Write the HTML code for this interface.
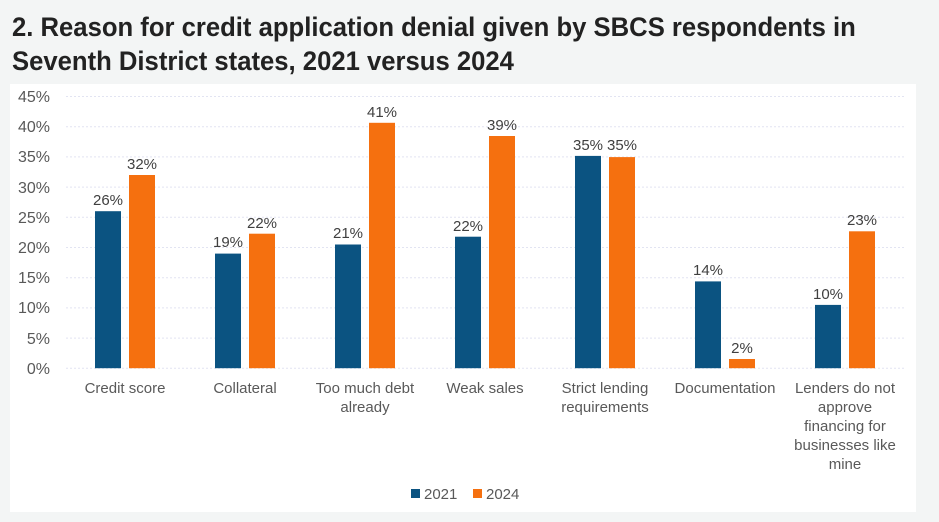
<!DOCTYPE html>
<html><head><style>
body{margin:0;width:939px;height:522px;background:#f3f5f5;position:relative;overflow:hidden;font-family:"Liberation Sans",sans-serif}
.title{position:absolute;left:12px;top:10px;font-family:"Liberation Sans Narrow","Liberation Sans",sans-serif;font-weight:bold;font-size:27px;line-height:34px;color:#222;white-space:nowrap;transform:scaleX(0.95);transform-origin:0 0}
.box{position:absolute;left:10px;top:84px;width:906px;height:428px;background:#fff}
</style></head><body>
<div class="title">2. Reason for credit application denial given by SBCS respondents in<br>Seventh District states, 2021 versus 2024</div>
<div class="box"></div>
<svg width="939" height="522" style="position:absolute;left:0;top:0" font-family="Liberation Sans, sans-serif">
<g stroke="#e2e4f2" stroke-width="1" stroke-dasharray="2,2">
<line x1="66" x2="905" y1="96.5" y2="96.5"/><line x1="66" x2="905" y1="126.7" y2="126.7"/><line x1="66" x2="905" y1="156.9" y2="156.9"/><line x1="66" x2="905" y1="187.1" y2="187.1"/><line x1="66" x2="905" y1="217.3" y2="217.3"/><line x1="66" x2="905" y1="247.5" y2="247.5"/><line x1="66" x2="905" y1="277.7" y2="277.7"/><line x1="66" x2="905" y1="307.9" y2="307.9"/><line x1="66" x2="905" y1="338.1" y2="338.1"/><line x1="66" x2="905" y1="368.3" y2="368.3"/>
</g>
<g fill="#595959" font-size="16" text-anchor="end">
<text x="50" y="102">45%</text><text x="50" y="132">40%</text><text x="50" y="162">35%</text><text x="50" y="193">30%</text><text x="50" y="223">25%</text><text x="50" y="253">20%</text><text x="50" y="283">15%</text><text x="50" y="313">10%</text><text x="50" y="344">5%</text><text x="50" y="374">0%</text>
</g>
<g fill="#0b5381">
<rect x="95" y="211.2" width="26" height="157"/>
<rect x="215" y="253.6" width="26" height="114.6"/>
<rect x="335" y="244.5" width="26" height="123.7"/>
<rect x="455" y="236.7" width="26" height="131.5"/>
<rect x="575" y="155.9" width="26" height="212.3"/>
<rect x="695" y="281.4" width="26" height="86.8"/>
<rect x="815" y="304.9" width="26" height="63.3"/>
</g>
<g fill="#f5700f">
<rect x="129" y="175" width="26" height="193.2"/>
<rect x="249" y="233.7" width="26" height="134.5"/>
<rect x="369" y="122.8" width="26" height="245.4"/>
<rect x="489" y="136" width="26" height="232.2"/>
<rect x="609" y="157.1" width="26" height="211.1"/>
<rect x="729" y="359" width="26" height="9.2"/>
<rect x="849" y="231.3" width="26" height="136.9"/>
</g>
<g fill="#404040" font-size="15" text-anchor="middle">
<text x="108" y="205">26%</text><text x="142" y="169">32%</text>
<text x="228" y="247">19%</text><text x="262" y="228">22%</text>
<text x="348" y="238">21%</text><text x="382" y="117">41%</text>
<text x="468" y="231">22%</text><text x="502" y="130">39%</text>
<text x="588" y="150">35%</text><text x="622" y="150">35%</text>
<text x="708" y="275">14%</text><text x="742" y="353">2%</text>
<text x="828" y="299">10%</text><text x="862" y="225">23%</text>
</g>
<g fill="#595959" font-size="15" text-anchor="middle">
<text x="125" y="393">Credit score</text>
<text x="245" y="393">Collateral</text>
<text x="365" y="393">Too much debt</text><text x="365" y="412">already</text>
<text x="485" y="393">Weak sales</text>
<text x="605" y="393">Strict lending</text><text x="605" y="412">requirements</text>
<text x="725" y="393">Documentation</text>
<text x="845" y="393">Lenders do not</text><text x="845" y="412">approve</text><text x="845" y="431">financing for</text><text x="845" y="450">businesses like</text><text x="845" y="469">mine</text>
</g>
<rect x="411" y="489" width="9" height="9" fill="#0b5381"/>
<text x="424" y="499" font-size="15" fill="#595959">2021</text>
<rect x="473" y="489" width="9" height="9" fill="#f5700f"/>
<text x="486" y="499" font-size="15" fill="#595959">2024</text>
</svg>
</body></html>
